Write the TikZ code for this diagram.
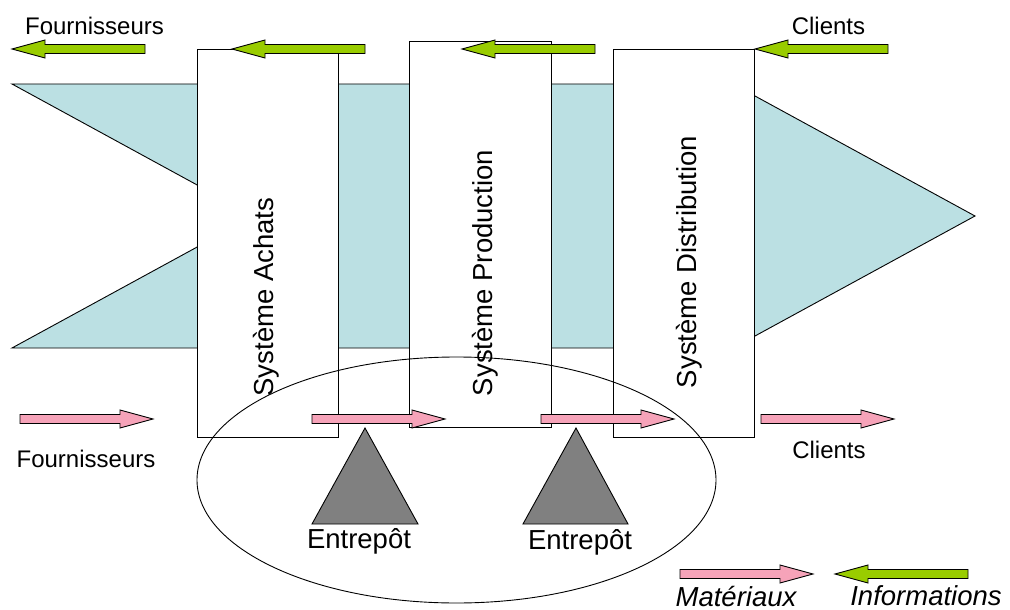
\documentclass[tikz,border=0pt]{standalone}
\usepackage{fontspec}
\setmainfont{Liberation Sans}
\usetikzlibrary{shapes.geometric}

\definecolor{flowband}{HTML}{BBE0E3}
\definecolor{infogreen}{HTML}{99CC00}
\definecolor{matpink}{HTML}{F6A3B9}
\definecolor{depotgray}{HTML}{808080}

\tikzset{
  % block arrow: tail at the origin, pointing along +x, 133 units long
  blockarrow/.pic={
    \path[draw=black, line width=0.9pt, pic actions]
      (0,-4.5) -- (100,-4.5) -- (100,-9) -- (133,0) -- (100,9) -- (100,4.5) -- (0,4.5) -- cycle;
  },
  matarrow/.style={fill=matpink},
  infoarrow/.style={fill=infogreen, rotate=180},
  sysbox/.style={draw, fill=white, line width=0.9pt, inner sep=0pt},
  syslabel/.style={rotate=90, font=\fontsize{27.5}{30}\selectfont, inner sep=0pt},
  smalllabel/.style={font=\fontsize{24}{28}\selectfont, anchor=base, inner sep=0pt},
  biglabel/.style={font=\fontsize{27.5}{30}\selectfont, anchor=base, inner sep=0pt},
  depot/.style={draw, fill=depotgray, line width=0.9pt},
}

\begin{document}
\begin{tikzpicture}[x=1pt, y=-1pt, line join=miter]
\useasboundingbox (0,0) rectangle (1010,610);

% material flow band with notched tail and pointed head
\draw[fill=flowband, line width=0.9pt]
  (12,84) -- (733,84) -- (975,216) -- (733,348) -- (12,348) -- (254,216) -- cycle;

% the three systems
\node[sysbox, minimum width=141pt, minimum height=388pt] (achats) at (267.5,243) {};
\node[sysbox, minimum width=142pt, minimum height=386pt] (production) at (480,234) {};
\node[sysbox, minimum width=141pt, minimum height=388pt] (distribution) at (683.5,243) {};

\node[syslabel] (lachats) at (266,297) {Système Achats};
\node[syslabel] (lproduction) at (485.5,273) {Système Production};
\node[syslabel] (ldistribution) at (689,262) {Système Distribution};

% information flow (right to left)
\pic[infoarrow] (info1) at (145,49) {blockarrow};
\pic[infoarrow] (info2) at (365,49) {blockarrow};
\pic[infoarrow] (info3) at (595,49) {blockarrow};
\pic[infoarrow] (info4) at (888,49) {blockarrow};

\node[smalllabel] (fourn-top) at (94.5,35) {Fournisseurs};
\node[smalllabel] (clients-top) at (828.5,35) {Clients};

% storage zone
\node[draw, ellipse, line width=0.9pt, minimum width=519pt, minimum height=246pt, inner sep=0pt]
  (zone) at (456.5,480) {};

% warehouses
\draw[depot] (365,428) -- (418,524) -- (312,524) -- cycle;
\draw[depot] (576,428) -- (628,524) -- (523,524) -- cycle;
\node[biglabel] (depot1) at (359,548) {Entrepôt};
\node[biglabel] (depot2) at (580,549) {Entrepôt};

% material flow (left to right)
\pic[matarrow] (mat1) at (20,419) {blockarrow};
\pic[matarrow] (mat2) at (312,419) {blockarrow};
\pic[matarrow] (mat3) at (541,419) {blockarrow};
\pic[matarrow] (mat4) at (761,419) {blockarrow};

\node[smalllabel] (fourn-bot) at (86,467) {Fournisseurs};
\node[smalllabel] (clients-bot) at (829,458) {Clients};

% legend
\pic[matarrow] (legmat) at (680,574) {blockarrow};
\pic[infoarrow] (leginfo) at (968,574) {blockarrow};
\node[biglabel, font=\fontsize{27.5}{30}\selectfont\itshape] (legmatlabel) at (736,606) {Matériaux};
\node[biglabel, font=\fontsize{27.5}{30}\selectfont\itshape] (leginfolabel) at (926,605) {Informations};
\end{tikzpicture}
\end{document}
